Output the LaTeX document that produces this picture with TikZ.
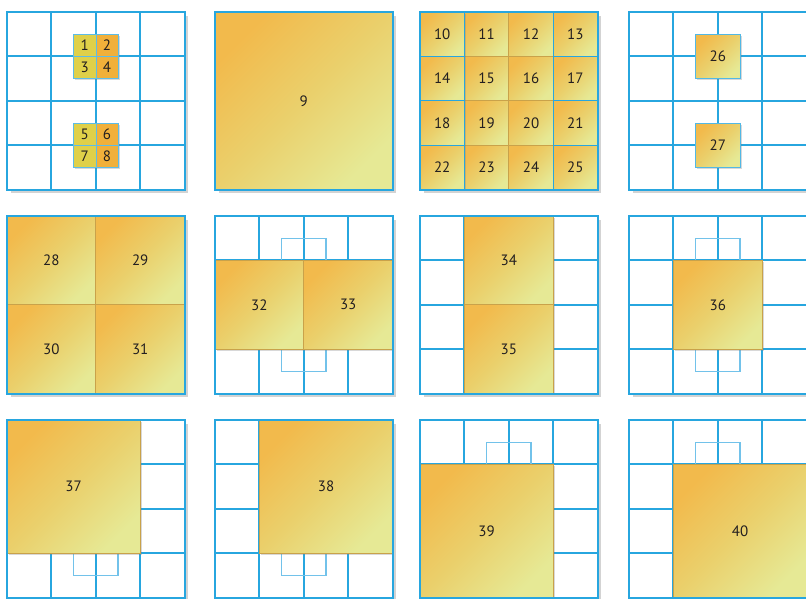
\documentclass[tikz,border=0pt]{standalone}
\usepackage{fontspec}
\setmainfont{PT Sans}
\usepackage{xcolor}
\usetikzlibrary{shadows}
\definecolor{GBlue}{HTML}{27A6DF}
\definecolor{GGhost}{HTML}{72C2EA}
\definecolor{TOrange}{HTML}{F2BA4C}
\definecolor{TMid}{HTML}{EAD06C}
\definecolor{TPale}{HTML}{E6E995}
\definecolor{TYellow}{HTML}{DFD049}
\definecolor{TAmber}{HTML}{F1B03A}
\definecolor{TEdge}{HTML}{C9A24A}
\definecolor{TInk}{HTML}{231F20}

\begin{document}
\begin{tikzpicture}[x=44.4pt, y=-44.4pt,
  every node/.style={font=\fontsize{15}{17}\selectfont, text=TInk},
  panel/.style={fill=white, drop shadow={opacity=0.35, shadow xshift=3.5pt, shadow yshift=-3.5pt}},
  grid/.style={draw=GBlue, line width=2pt},
  ghost/.style={draw=GGhost, line width=1.1pt},
  tile/.style={draw=TEdge, line width=0.8pt, inner sep=0pt, outer sep=0pt,
               top color=TOrange, bottom color=TPale, middle color=TMid, shading angle=45,
               drop shadow={opacity=0.3, shadow xshift=1.5pt, shadow yshift=-1.5pt}},
  mini/.style={draw=GBlue!75, line width=0.6pt, inner sep=0pt, outer sep=0pt,
               minimum size=22.2pt,
               drop shadow={opacity=0.3, shadow xshift=1.5pt, shadow yshift=-1.5pt}},
  one/.style={tile, minimum size=44.4pt},
  rimone/.style={one, draw=GBlue, line width=1.3pt},
  solo/.style={one, draw=GBlue!80, line width=0.8pt},
  two/.style={tile, minimum size=88.8pt},
  three/.style={tile, minimum size=133.2pt},
  full/.style={tile, minimum size=177.6pt}]
\useasboundingbox (0pt,0pt) rectangle (806pt,-598pt);
% panel corners
\coordinate (P1)  at (7pt,-12pt);   \coordinate (P2)  at (215pt,-12pt);
\coordinate (P3)  at (420pt,-12pt); \coordinate (P4)  at (629pt,-12pt);
\coordinate (P5)  at (7pt,-216pt);  \coordinate (P6)  at (215pt,-216pt);
\coordinate (P7)  at (420pt,-216pt);\coordinate (P8)  at (629pt,-216pt);
\coordinate (P9)  at (7pt,-420pt);  \coordinate (P10) at (215pt,-420pt);
\coordinate (P11) at (420pt,-420pt);\coordinate (P12) at (629pt,-420pt);
% white panels with the 4x4 grid
\foreach \p in {1,...,12} {
  \begin{scope}[shift={(P\p)}]
    \fill[panel] (0,0) rectangle (4,4);
    \foreach \i in {1,2,3} {\draw[grid] (\i,0) -- (\i,4); \draw[grid] (0,\i) -- (4,\i);}
  \end{scope}
}
% 1-8
\begin{scope}[shift={(P1)}]
  \node[mini, fill=TYellow] (t1) at (1.75,0.75) {1};
  \node[mini, fill=TAmber]  (t2) at (2.25,0.75) {2};
  \node[mini, fill=TYellow] (t3) at (1.75,1.25) {3};
  \node[mini, fill=TAmber]  (t4) at (2.25,1.25) {4};
  \node[mini, fill=TYellow] (t5) at (1.75,2.75) {5};
  \node[mini, fill=TAmber]  (t6) at (2.25,2.75) {6};
  \node[mini, fill=TYellow] (t7) at (1.75,3.25) {7};
  \node[mini, fill=TAmber]  (t8) at (2.25,3.25) {8};
\end{scope}
% 9
\begin{scope}[shift={(P2)}]
  \node[full] (t9) at (2,2) {9};
\end{scope}
% 10-25
\begin{scope}[shift={(P3)}]
  \foreach \c/\s in {1/one,2/one,0/rimone,3/rimone}
    \foreach \r in {0,...,3} {
      \pgfmathtruncatemacro\n{10+4*\r+\c}
      \node[\s] (t\n) at (\c+0.5,\r+0.5) {\n};
    }
\end{scope}
% 26, 27
\begin{scope}[shift={(P4)}]
  \node[solo] (t26) at (2,1) {26};
  \node[solo] (t27) at (2,3) {27};
\end{scope}
% 28-31
\begin{scope}[shift={(P5)}]
  \node[two] (t28) at (1,1) {28};
  \node[two] (t29) at (3,1) {29};
  \node[two] (t30) at (1,3) {30};
  \node[two] (t31) at (3,3) {31};
\end{scope}
% 32, 33
\begin{scope}[shift={(P6)}]
  \draw[ghost] (1.5,0.5) rectangle (2.5,1.5);
  \draw[ghost] (1.5,2.5) rectangle (2.5,3.5);
  \node[two] (t32) at (1,2) {32};
  \node[two] (t33) at (3,2) {33};
\end{scope}
% 34, 35
\begin{scope}[shift={(P7)}]
  \node[two] (t34) at (2,1) {34};
  \node[two] (t35) at (2,3) {35};
\end{scope}
% 36
\begin{scope}[shift={(P8)}]
  \draw[ghost] (1.5,0.5) rectangle (2.5,1.5);
  \draw[ghost] (1.5,2.5) rectangle (2.5,3.5);
  \node[two] (t36) at (2,2) {36};
\end{scope}
% 37-40
\begin{scope}[shift={(P9)}]
  \draw[ghost] (1.5,2.5) rectangle (2.5,3.5);
  \node[three] (t37) at (1.5,1.5) {37};
\end{scope}
\begin{scope}[shift={(P10)}]
  \draw[ghost] (1.5,2.5) rectangle (2.5,3.5);
  \node[three] (t38) at (2.5,1.5) {38};
\end{scope}
\begin{scope}[shift={(P11)}]
  \draw[ghost] (1.5,0.5) rectangle (2.5,1.5);
  \node[three] (t39) at (1.5,2.5) {39};
\end{scope}
\begin{scope}[shift={(P12)}]
  \draw[ghost] (1.5,0.5) rectangle (2.5,1.5);
  \node[three] (t40) at (2.5,2.5) {40};
\end{scope}
% outer frames on top
\foreach \p in {1,...,12} {
  \draw[grid, shift={(P\p)}] (0,0) rectangle (4,4);
}
\end{tikzpicture}
\end{document}
